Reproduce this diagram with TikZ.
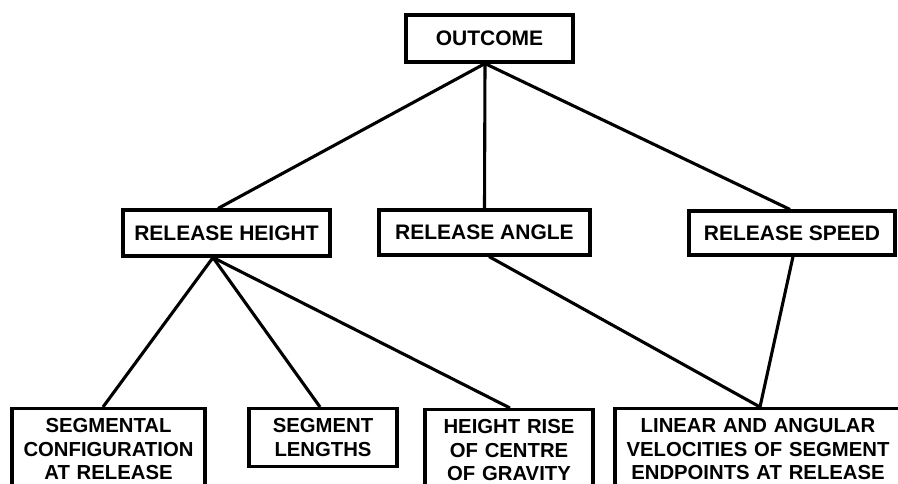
\documentclass[tikz,border=0pt]{standalone}
\usepackage{fontspec}
\setmainfont{Liberation Sans}
\begin{document}
\begin{tikzpicture}[x=1pt,y=-1pt,
  every node/.style={font=\fontsize{21}{23.5}\selectfont\bfseries},
  box/.style={draw=black,line width=3.1pt,align=center,inner sep=0pt},
  lowbox/.style={draw=black,line width=3.1pt,align=center,anchor=north,inner xsep=0pt,inner ysep=10pt,
    font=\fontsize{20.3}{23.5}\selectfont\bfseries},
  link/.style={line width=3.1pt}]
\useasboundingbox (0,0) rectangle (898,484);
\clip (0,0) rectangle (898,484);
% top level
\node[box,minimum width=167pt,minimum height=47pt] (out) at (489.5,38.5) {OUTCOME};
% middle level
\node[box,minimum width=207pt,minimum height=46pt] (rh) at (226.5,233) {RELEASE HEIGHT};
\node[box,minimum width=211pt,minimum height=45pt] (ra) at (484.5,232.5) {RELEASE ANGLE};
\node[box,minimum width=206pt,minimum height=44pt] (rs) at (792,233) {RELEASE SPEED};
% bottom level
\node[lowbox,minimum width=193pt,text width=193pt] (seg) at (108.5,407) {SEGMENTAL\\CONFIGURATION\\AT RELEASE};
\node[lowbox,minimum width=148pt,text width=148pt] (sl) at (323,407) {SEGMENT\\LENGTHS};
\node[lowbox,minimum width=168pt,text width=168pt] (hr) at (509,408) {HEIGHT RISE\\OF CENTRE\\OF GRAVITY};
\node[lowbox,minimum width=286pt,text width=286pt] (lin) at (758,407) {LINEAR AND ANGULAR\\VELOCITIES OF SEGMENT\\ENDPOINTS AT RELEASE};
% connectors
\draw[link] ([xshift=-4.5pt]out.south) -- ([xshift=-8.5pt]rh.north);
\draw[link] ([xshift=-4.5pt]out.south) -- ([xshift=0pt]ra.north);
\draw[link] ([xshift=-4.5pt]out.south) -- ([xshift=-2pt]rs.north);
\draw[link] ([xshift=-13.5pt]rh.south) -- ([xshift=-5.5pt]seg.north);
\draw[link] ([xshift=-13.5pt]rh.south) -- ([xshift=-3pt]sl.north);
\draw[link] ([xshift=-13.5pt]rh.south) -- ([xshift=1pt]hr.north);
\draw[link] ([xshift=4.5pt]ra.south) -- ([xshift=2pt]lin.north);
\draw[link] ([xshift=1pt]rs.south) -- ([xshift=2pt]lin.north);
\end{tikzpicture}
\end{document}
